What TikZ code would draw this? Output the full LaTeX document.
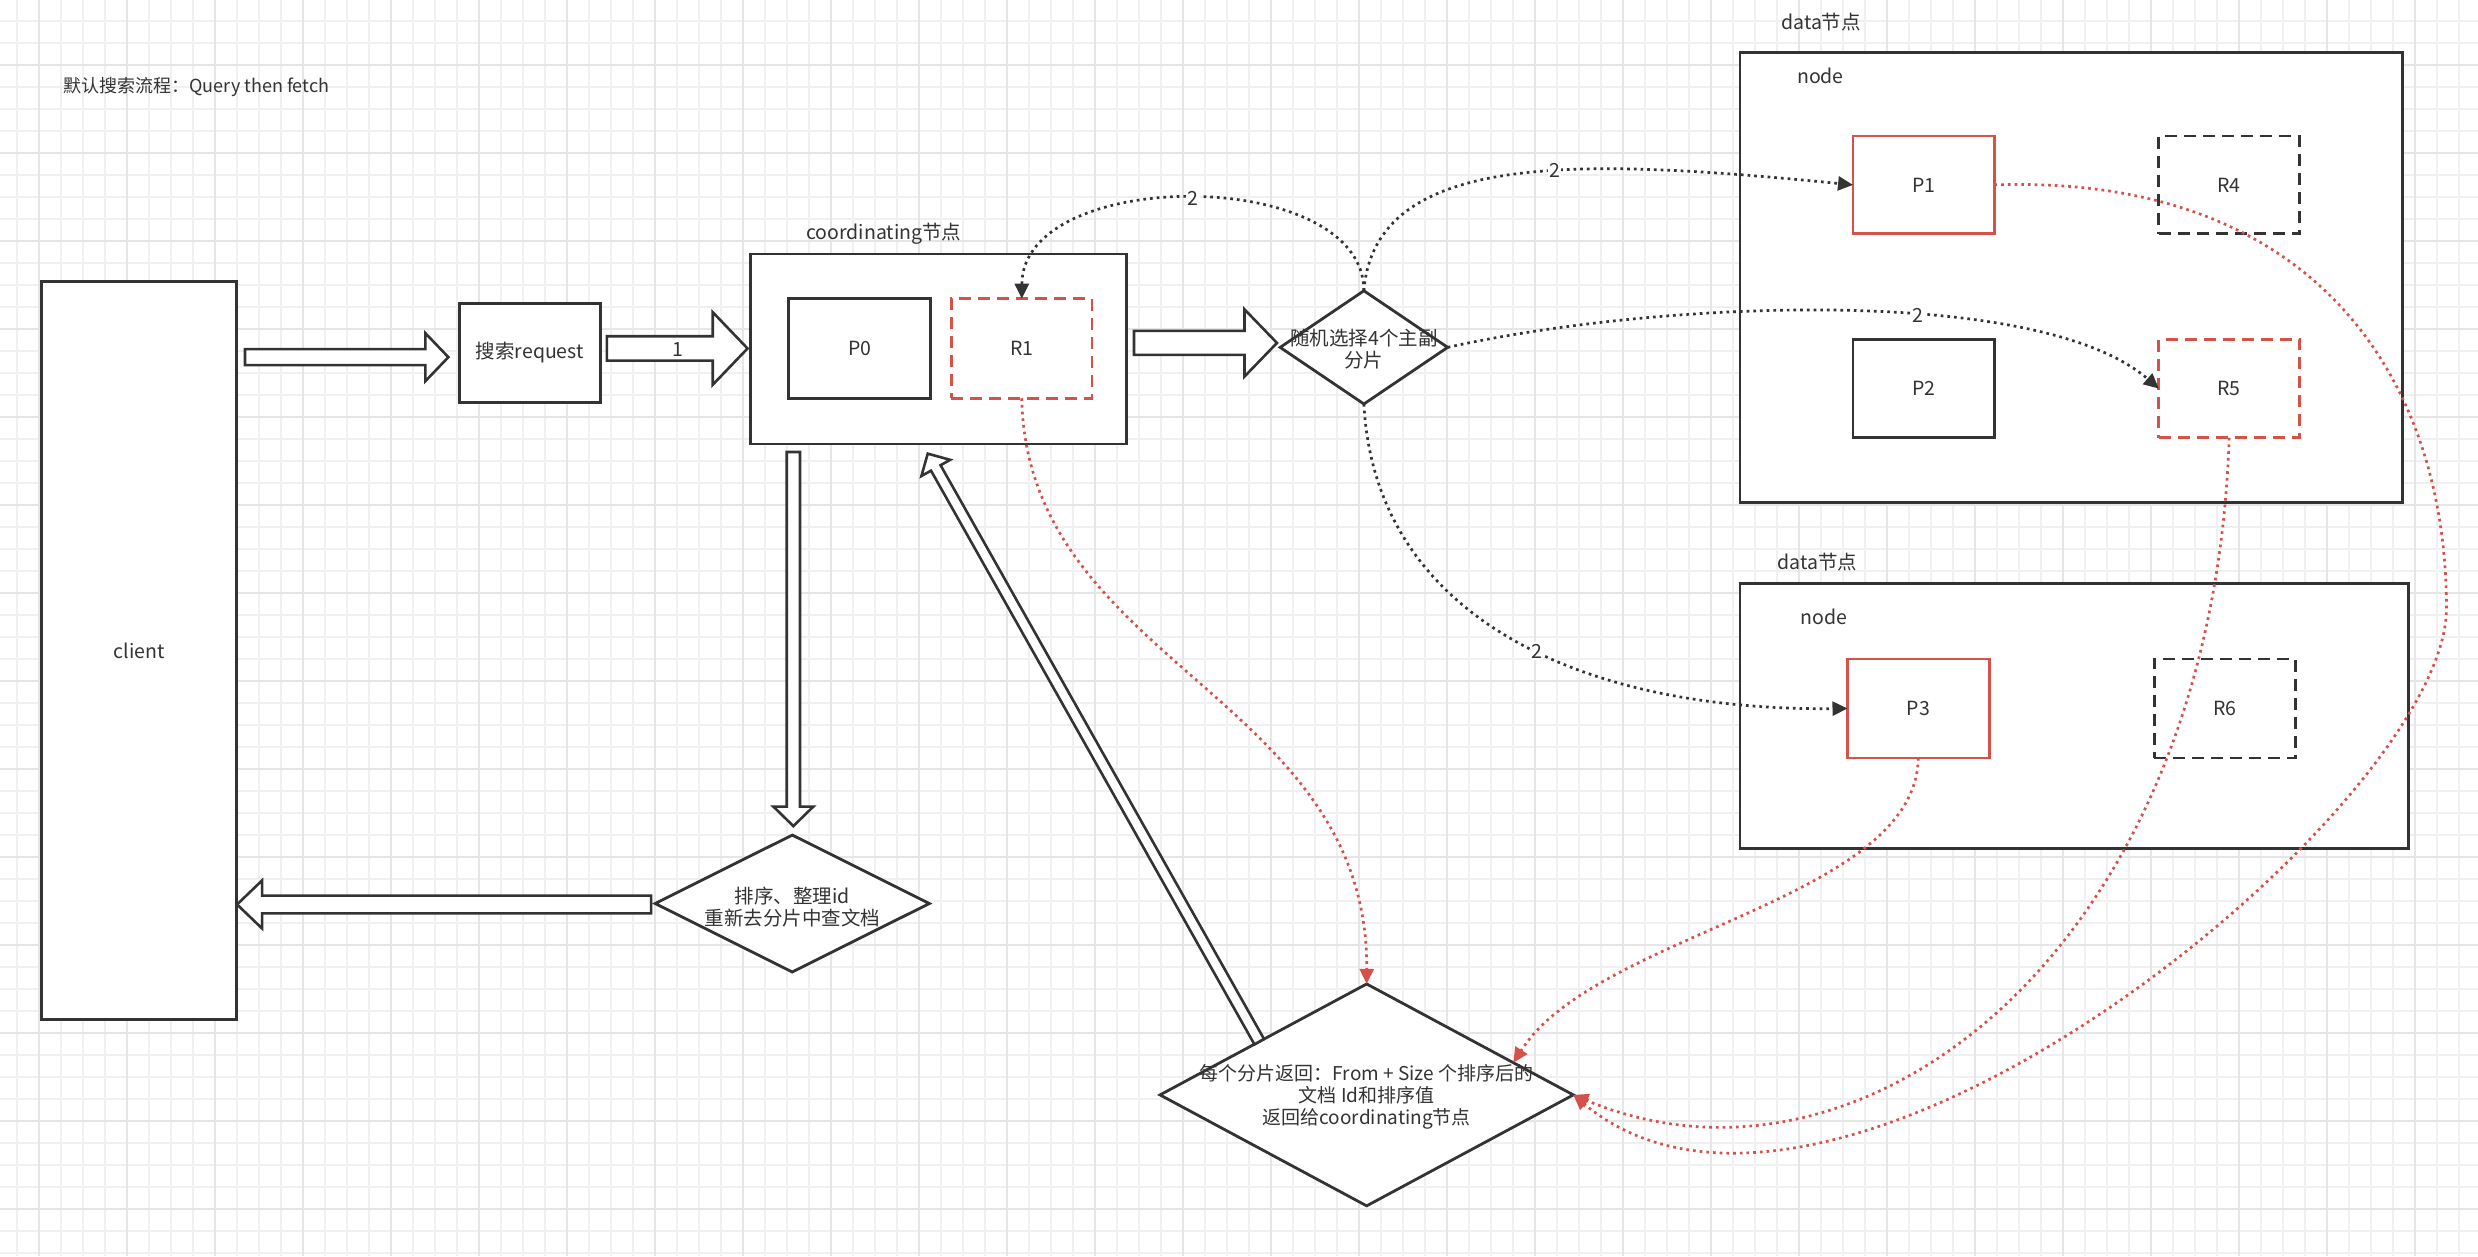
\documentclass[tikz,border=0pt]{standalone}
\usepackage{fontspec}
\setmainfont{Noto Sans CJK SC}
\usetikzlibrary{arrows.meta,shapes.geometric,fit,calc}
\definecolor{ink}{HTML}{333333}
\definecolor{redc}{HTML}{D4524A}
\definecolor{gridminor}{HTML}{F0F0F0}
\definecolor{gridmajor}{HTML}{E6E6E6}
% #1 extra style, #2 start coordinate, #3 end coordinate,
% #4 shaft half width, #5 head half width, #6 head length (all in pt)
\newcommand\blockarrow[6][]{%
  \pgfpointdiff{\pgfpointanchor{#2}{center}}{\pgfpointanchor{#3}{center}}%
  \pgfgetlastxy{\bax}{\bay}%
  \pgfmathsetmacro\baang{atan2(\bay,\bax)}%
  \pgfmathsetmacro\balen{veclen(\bax,\bay)}%
  \begin{scope}[shift={(#2)}, rotate=\baang, x=1pt, y=1pt]
    \draw[barrow,#1] (0,#4) -- ({\balen-#6},#4) -- ({\balen-#6},#5) -- (\balen,0)
      -- ({\balen-#6},-#5) -- ({\balen-#6},-#4) -- (0,-#4) -- cycle;
  \end{scope}}
\begin{document}
\begin{tikzpicture}[x=1.5804pt, y=-1.5804pt,
  font=\fontsize{19.5}{22}\selectfont,
  box/.style={draw=ink, line width=2.8pt, fill=white, inner sep=0pt, outer sep=0pt},
  redbox/.style={box, draw=redc},
  dashbox/.style={box, dash pattern=on 12pt off 7pt},
  reddash/.style={dashbox, draw=redc},
  dia/.style={shape=diamond, draw=ink, line width=2.8pt, fill=white, inner sep=0pt, outer sep=0pt},
  txt/.style={inner sep=0pt, text=ink, align=center},
  dotc/.style={draw=ink, line width=2.7pt, dash pattern=on 2.7pt off 4pt, -{Triangle[length=15pt,width=14pt]}},
  reddot/.style={dotc, draw=redc},
  num/.style={fill=white, inner sep=1.5pt, text=ink},
  barrow/.style={draw=ink, fill=white, line width=2.6pt, line join=miter}]

\path[use as bounding box] (0,0) rectangle (1567.96,794.74);

% background grid (real pixel units)
\begin{scope}[x=1pt, y=-1pt]
  \foreach \i in {0,...,111} {\draw[gridminor, line width=1.3pt] ({17+22*\i},0) -- ({17+22*\i},1256);}
  \foreach \j in {0,...,56} {\draw[gridminor, line width=1.3pt] (0,{21+22*\j}) -- (2478,{21+22*\j});}
  \foreach \i in {0,...,27} {\draw[gridmajor, line width=1.7pt] ({39+88*\i},0) -- ({39+88*\i},1256);}
  \foreach \j in {0,...,13} {\draw[gridmajor, line width=1.7pt] (0,{65+88*\j}) -- (2478,{65+88*\j});}
\end{scope}

% title
\node[txt, anchor=west, font=\fontsize{18}{21}\selectfont] (title) at (40,55) {默认搜索流程：Query then fetch};

% client and request
\node[box, fit={(26.5,178.2) (149.4,645)}] (client) {};
\node[txt] (clientT) at (client) {client};
\node[box, fit={(290.5,192) (380,254.6)}] (req) {};
\node[txt] (reqT) at (req) {搜索request};

% coordinating node
\node[txt, anchor=west] (coordL) at (510,147.6) {coordinating节点};
\node[box, fit={(475,160.7) (713,281)}] (coord) {};
\node[box, fit={(499,189) (589,252)}] (P0) {};
\node[reddash, fit={(602,189) (691,252)}] (R1) {};
\node[txt] (P0T) at (P0) {P0};
\node[txt] (R1T) at (R1) {R1};

% data node 1
\node[txt, anchor=west] (data1L) at (1127,14) {data节点};
\node[box, fit={(1101,33) (1520,318)}] (data1) {};
\node[txt, anchor=west] (node1L) at (1137,47.7) {node};
\node[redbox, fit={(1172.5,86) (1262,148)}] (P1) {};
\node[dashbox, fit={(1366,86) (1455,148)}] (R4) {};
\node[box, fit={(1172.5,214.7) (1262,277)}] (P2) {};
\node[reddash, fit={(1366,214.7) (1455,277)}] (R5) {};
\node[txt] (P1T) at (P1) {P1};
\node[txt] (R4T) at (R4) {R4};
\node[txt] (P2T) at (P2) {P2};
\node[txt] (R5T) at (R5) {R5};

% data node 2
\node[txt, anchor=west] (data2L) at (1124.5,355.4) {data节点};
\node[box, fit={(1101,369) (1524,536.7)}] (data2) {};
\node[txt, anchor=west] (node2L) at (1139,390.5) {node};
\node[redbox, fit={(1169,417) (1258.6,479.6)}] (P3) {};
\node[dashbox, fit={(1363,417) (1452.6,479.6)}] (R6) {};
\node[txt] (P3T) at (P3) {P3};
\node[txt] (R6T) at (R6) {R6};

% diamonds
\node[dia, minimum width=167.5pt, minimum height=113.2pt] (d1) at (863,219.8) {};
\node[dia, minimum width=413.3pt, minimum height=221.9pt] (d2) at (864.75,692.8) {};
\node[dia, minimum width=274.2pt, minimum height=136.9pt] (d3) at (501.3,571.7) {};
\node[txt] (d1T) at (863,221) {随机选择4个主副\\分片};
\node[txt, font=\fontsize{19}{21.6}\selectfont] (d2T) at (864.75,694) {每个分片返回：From + Size 个排序后的\\文档 Id和排序值\\返回给coordinating节点};
\node[txt] (d3T) at (501.3,574) {排序、整理id\\重新去分片中查文档};

% block arrows
\coordinate (a1s) at (155,226);
\coordinate (a1e) at (283.7,226);
\blockarrow{a1s}{a1e}{8}{24}{23}
\coordinate (a2s) at (384,220.5);
\coordinate (a2e) at (473,220.5);
\blockarrow{a2s}{a2e}{12.2}{36.3}{34.8}
\node[txt] (one) at (429,221) {1};
\coordinate (a3s) at (717.5,217);
\coordinate (a3e) at (808,217);
\blockarrow{a3s}{a3e}{12}{33.6}{32.5}
\coordinate (a4s) at (502,286);
\coordinate (a4e) at (502,522.7);
\blockarrow{a4s}{a4e}{6.6}{20}{19.5}
\coordinate (a5s) at (412,572.3);
\coordinate (a5e) at (150,572.3);
\blockarrow{a5s}{a5e}{8.9}{24}{25}
\coordinate (a6s) at ($(d2.west)!0.48!(d2.north)$);
\coordinate (a6e) at (587,287);
\blockarrow{a6s}{a6e}{5.5}{16.5}{16.4}

% dotted request connectors
\draw[dotc] (d1.north) .. controls (863,105) and (647,105) .. (R1.north) node[num, pos=0.5] (l1) {2};
\draw[dotc] (d1.north) .. controls (870,95) and (1000,100) .. (P1.west) node[num, pos=0.58] (l2) {2};
\draw[dotc] (d1.east) .. controls (1050,190) and (1290,180) .. (R5.west) node[num, pos=0.6] (l3) {2};
\draw[dotc] (d1.south) .. controls (870,390) and (1000,450) .. (P3.west) node[num, pos=0.55] (l4) {2};

% red return connectors
\coordinate (d2ne) at ($(d2.north)!0.71!(d2.east)$);
\coordinate (p1way) at (1548,385);
\draw[reddot] (R1.south) .. controls (650,420) and (866,440) .. (d2.north);
\draw[reddot] (P3.south) .. controls (1212,570) and (1010,590) .. (d2ne);
\draw[reddot] (R5.south) .. controls (1400,600) and (1180,770) .. (d2.east);
\draw[reddot] (P1.east) .. controls (1465,110) and (1548,240) .. (p1way)
  .. controls (1548,510) and (1160,830) .. (d2.east);
\end{tikzpicture}
\end{document}
